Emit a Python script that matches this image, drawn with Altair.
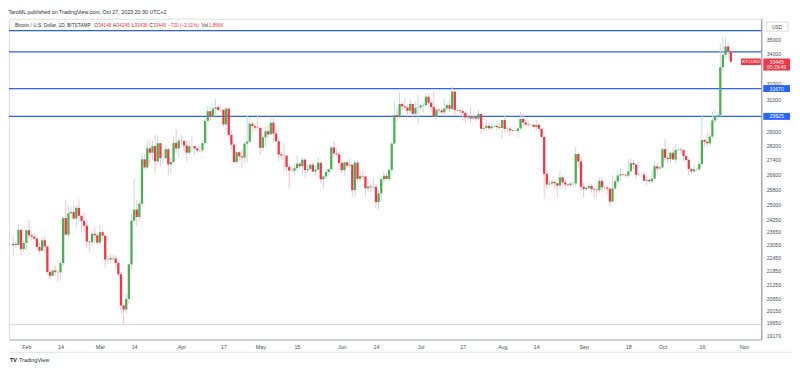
import altair as alt
import pandas as pd
import numpy as np

# ---------------- data (BTC/USD daily, Bitstamp, Jan 27 - Oct 27 2023) ----------------
START_DATE = "2023-01-27"

OPEN = [
    23010, 23080, 23030, 23750, 22840,
    23130, 23730, 23490, 23430, 23330, 22940, 22760, 23250, 22960, 21800, 21630, 21860, 21790, 21780, 22200, 24330, 23520, 24570, 24630, 24300, 24840, 24440, 24190, 23950, 23190, 23160, 23560, 23490,
    23140, 23640, 23470, 22360, 22350, 22430, 22410, 22200, 21700, 20360, 20190, 20630, 22140, 24200, 24750, 24380, 25050, 27420, 26970, 28040, 27790, 28170, 27310, 28330, 27480, 27480, 27990, 27140, 27270, 28350, 28030,
    28480, 28460, 28200, 27790, 28170, 28170, 28030, 27920, 27940, 28340, 29650, 30240, 29900, 30400, 30490, 30320, 30320, 29440, 30400, 28820, 28250, 27270, 27820, 27590, 27520, 28310, 28420, 29480, 29340, 29250,
    29230, 28070, 28680, 29030, 28850, 29540, 28900, 28450, 27700, 27630, 27620, 26990, 26800, 26790, 26930, 27170, 27040, 27400, 26830, 26890, 27120, 26750, 26850, 27230, 26330, 26480, 26720, 26870, 28090, 27750, 27700,
    27220, 26820, 27250, 27070, 27120, 25750, 27240, 26350, 26500, 26480, 25850, 25940, 25900, 25920, 25130, 25580, 26330, 26510, 26340, 26840, 28310, 30000, 29890, 30690, 30540, 30470, 30270, 30690, 30080, 30450,
    30470, 30590, 30620, 31150, 30770, 30500, 29900, 30340, 30290, 30170, 30410, 30620, 30390, 31470, 30320, 30290, 30250, 30140, 29860, 29910, 29800, 29900, 29790, 30080, 29180, 29230, 29350, 29210, 29320, 29350, 29280,
    29230, 29700, 29170, 29180, 29090, 29050, 29060, 29200, 29770, 29560, 29430, 29400, 29420, 29290, 29410, 29180, 28700, 26620, 26050, 26100, 26190, 26120, 25990, 26430, 26160, 26050, 26010, 26100, 26110, 27720, 27300,
    25930, 25800, 25870, 25970, 25810, 25780, 25750, 26240, 25900, 25890, 25830, 25160, 25840, 26220, 26530, 26600, 26570, 26530, 26760, 27210, 27130, 26570, 26580, 26580, 26250, 26300, 26220, 26370, 27030, 26910,
    26970, 27990, 27500, 27430, 27790, 27410, 27950, 27970, 27940, 27600, 27390, 26880, 26760, 26870, 26860, 27160, 28520, 28420, 28330, 28720, 29680, 29920, 29990, 33070, 33920, 34500, 34148,
]
HIGH = [
    23500, 23170, 23960, 23800, 23310,
    23800, 24250, 23590, 23580, 23430, 23160, 23350, 23440, 23000, 21920, 21900, 22090, 21890, 22320, 24380, 25250, 24980, 24870, 25120, 25000, 25280, 24480, 24600, 24120, 23200, 23680, 23880, 23600,
    23960, 23770, 23480, 22420, 22610, 22560, 22550, 22270, 21810, 20450, 20850, 22190, 24550, 26400, 25250, 25200, 27760, 27720, 28450, 28500, 28500, 28830, 28760, 28380, 27800, 28200, 28030, 27500, 28650, 29170, 28650,
    28820, 28520, 28500, 28450, 28740, 28190, 28100, 28160, 28500, 29780, 30540, 30430, 30600, 31000, 30620, 30550, 30360, 30480, 30420, 29100, 28380, 27880, 27830, 28000, 28400, 30020, 29880, 29590, 29450, 29960,
    29330, 28880, 29270, 29370, 29840, 29850, 29180, 28650, 27820, 28340, 27650, 27060, 27020, 27190, 27660, 27270, 27480, 27470, 27190, 27160, 27270, 27050, 27490, 27250, 26540, 26910, 26920, 28200, 28450, 28040, 27840,
    27350, 27310, 27320, 27450, 27130, 27350, 27360, 26800, 26770, 26530, 26200, 26090, 26420, 26080, 25740, 26470, 26780, 26680, 26980, 28400, 30800, 30500, 31430, 30800, 31050, 30650, 31000, 30710, 30830, 31270,
    30660, 30790, 31380, 31330, 30880, 31500, 30440, 30380, 30440, 31040, 30800, 30980, 31820, 31640, 30400, 30450, 30330, 30240, 30190, 30420, 30050, 29990, 30350, 30100, 29360, 29690, 29570, 29530, 29410, 29450, 29520,
    29750, 30050, 29400, 29310, 29120, 29180, 29250, 30200, 30140, 29720, 29540, 29460, 29450, 29680, 29460, 29230, 28780, 26800, 26260, 26270, 26250, 26130, 26800, 26550, 26300, 26100, 26180, 26230, 28140, 27750, 27570,
    26150, 25980, 26120, 26080, 25860, 26030, 26440, 26420, 25940, 25980, 25880, 26550, 26380, 26820, 26880, 26670, 26620, 27420, 27490, 27380, 27160, 26740, 26640, 26730, 26430, 26390, 26830, 27300, 27230, 27090,
    28050, 28580, 27680, 27830, 28120, 28280, 28010, 28100, 27990, 27740, 27480, 26950, 27100, 26960, 27290, 30000, 28610, 28970, 28900, 30220, 30340, 30220, 34740, 35200, 35140, 34790, 34245,
]
LOW = [
    22540, 22880, 23000, 22550, 22720,
    22760, 23380, 23230, 23250, 22750, 22630, 22740, 22650, 21700, 21460, 21600, 21630, 21380, 21530, 22050, 23480, 23350, 24450, 24250, 23880, 24160, 23600, 23640, 22860, 22730, 22980, 23100, 23040,
    23030, 23220, 21980, 22180, 22210, 22290, 21940, 21590, 20050, 19580, 19990, 20450, 21920, 24080, 23950, 24190, 24900, 26900, 26880, 27170, 27350, 26620, 27160, 27030, 27180, 27440, 26560, 26680, 27250, 27730, 27540,
    28250, 27870, 27290, 27680, 27830, 27710, 27780, 27870, 27800, 28180, 29620, 29700, 29880, 29980, 30240, 30170, 29270, 29100, 28650, 28000, 27130, 27150, 27330, 26970, 27220, 27250, 28400, 28890, 29080, 29100,
    27670, 27880, 28120, 28680, 28820, 28390, 28410, 27280, 27380, 26780, 26750, 25830, 26700, 26580, 26720, 26870, 26570, 26400, 26680, 26850, 26700, 26540, 26810, 26090, 25870, 26320, 26550, 26850, 27560, 27570, 26840,
    26620, 26530, 26930, 26970, 25400, 25380, 26130, 26210, 26280, 25380, 25660, 25630, 25740, 24820, 24750, 25170, 26160, 26300, 26250, 26650, 28270, 29580, 29810, 30250, 30320, 29920, 30230, 29900, 30050, 29500,
    30330, 30160, 30600, 30650, 30200, 29850, 29710, 30050, 30080, 29950, 30300, 30200, 30250, 29940, 30250, 30090, 29660, 29500, 29750, 29560, 29720, 29640, 29730, 28860, 29030, 29100, 29100, 29130, 29260, 29050, 29110,
    28600, 28960, 28960, 28750, 28960, 28980, 28690, 29120, 29350, 29340, 29270, 29360, 29250, 29100, 29060, 28680, 25300, 25800, 25980, 26000, 25810, 25340, 25800, 25860, 25770, 25980, 25970, 25880, 25920, 27000, 25700,
    25350, 25720, 25780, 25620, 25370, 25400, 25620, 25650, 25800, 25570, 24900, 25140, 25770, 26130, 26220, 26480, 26400, 26390, 26680, 26880, 26370, 26490, 26520, 26220, 26000, 26100, 26110, 26340, 26670, 26880,
    26950, 27340, 27160, 27220, 27380, 27180, 27860, 27710, 27300, 27300, 26560, 26570, 26690, 26800, 26820, 27120, 28120, 28130, 28180, 28610, 29480, 29690, 29900, 32860, 33700, 33800, 33436,
]
CLOSE = [
    23080, 23030, 23750, 22840, 23130,
    23730, 23490, 23430, 23330, 22940, 22760, 23250, 22960, 21800, 21630, 21860, 21790, 21780, 22200, 24330, 23520, 24570, 24630, 24300, 24840, 24440, 24190, 23950, 23190, 23160, 23560, 23490, 23140,
    23640, 23470, 22360, 22350, 22430, 22410, 22200, 21700, 20360, 20190, 20630, 22140, 24200, 24750, 24380, 25050, 27420, 26970, 28040, 27790, 28170, 27310, 28330, 27480, 27480, 27990, 27140, 27270, 28350, 28030, 28480,
    28460, 28200, 27790, 28170, 28170, 28030, 27920, 27940, 28340, 29650, 30240, 29900, 30400, 30490, 30320, 30320, 29440, 30400, 28820, 28250, 27270, 27820, 27590, 27520, 28310, 28420, 29480, 29340, 29250, 29230,
    28070, 28680, 29030, 28850, 29540, 28900, 28450, 27700, 27630, 27620, 26990, 26800, 26790, 26930, 27170, 27040, 27400, 26830, 26890, 27120, 26750, 26850, 27230, 26330, 26480, 26720, 26870, 28090, 27750, 27700, 27220,
    26820, 27250, 27070, 27120, 25750, 27240, 26350, 26500, 26480, 25850, 25940, 25900, 25920, 25130, 25580, 26330, 26510, 26340, 26840, 28310, 30000, 29890, 30690, 30540, 30470, 30270, 30690, 30080, 30450, 30470,
    30590, 30620, 31150, 30770, 30500, 29900, 30340, 30290, 30170, 30410, 30620, 30390, 31470, 30320, 30290, 30250, 30140, 29860, 29910, 29800, 29900, 29790, 30080, 29180, 29230, 29350, 29210, 29320, 29350, 29280, 29230,
    29700, 29170, 29180, 29090, 29050, 29060, 29200, 29770, 29560, 29430, 29400, 29420, 29290, 29410, 29180, 28700, 26620, 26050, 26100, 26190, 26120, 25990, 26430, 26160, 26050, 26010, 26100, 26110, 27720, 27300, 25930,
    25800, 25870, 25970, 25810, 25780, 25750, 26240, 25900, 25890, 25830, 25160, 25840, 26220, 26530, 26600, 26570, 26530, 26760, 27210, 27130, 26570, 26580, 26580, 26250, 26300, 26220, 26370, 27030, 26910, 26970,
    27990, 27500, 27430, 27790, 27410, 27950, 27970, 27940, 27600, 27390, 26880, 26760, 26870, 26860, 27160, 28520, 28420, 28330, 28720, 29680, 29920, 29990, 33070, 33920, 34500, 34150, 33445,
]

# horizontal drawn levels
BLUE_LEVELS = [35640, 34130, 31670, 29925]
GRAY_LEVELS = [19580]

# axis labels
Y_TICKS = [19170, 19650, 20150, 20650, 21250, 21850, 22450, 23050, 23650, 24250,
           25000, 25800, 26600, 27400, 28200, 29000, 31000, 32000, 34000, 35000]
X_TICK_DATES = ["2023-02-01", "2023-02-14", "2023-03-01", "2023-03-14", "2023-04-01", "2023-04-17",
                "2023-05-01", "2023-05-15", "2023-06-01", "2023-06-14", "2023-07-01", "2023-07-17",
                "2023-08-01", "2023-08-14", "2023-09-01", "2023-09-18", "2023-10-01", "2023-10-16",
                "2023-11-01"]

# price-axis labels
AXIS_LABELS = [31670, 29925]
LAST_PRICE = 33445
LAST_TIMER = "05:29:49"

HEADER = "TaroML published on TradingView.com, Oct 27, 2023 20:30 UTC+2"
# (text, colour, gap before the segment in px)
LEGEND_SEGMENTS = [
    ("Bitcoin / U.S. Dollar, 1D, BITSTAMP", "#2a2e39", 0),
    ("O", "#2a2e39", 3), ("34148", "#f23645", 0.3),
    ("H", "#2a2e39", 1.6), ("34245", "#f23645", 0.3),
    ("L", "#2a2e39", 1.6), ("33436", "#f23645", 0.3),
    ("C", "#2a2e39", 1.6), ("33445", "#f23645", 0.3),
    ("\u2212720 (\u22122.11%)", "#f23645", 1.8),
    ("Vol", "#2a2e39", 2.2), ("1.856K", "#f23645", 0.3),
]

# ---------------- layout / style ----------------
W, H = 760, 324
FONT = "Liberation Sans"
LEG_FS = 4.8
UP, DOWN = "#4caf50", "#f23645"
UP_WICK, DOWN_WICK = "#c5dbe2", "#f6c3c9"
BLUE = "#2962ff"

# Arial / Liberation Sans advance widths (em)
_AW = {" ": .278, "/": .278, ".": .278, ",": .278, "(": .333, ")": .333, "%": .889, "\u2212": .584,
       "i": .222, "l": .222, "t": .278, "r": .333, "c": .5, "o": .556, "n": .556, "a": .556,
       "B": .667, "U": .722, "S": .667, "D": .722, "I": .278, "T": .611, "A": .667, "M": .833,
       "P": .667, "O": .778, "H": .722, "L": .556, "C": .722, "V": .667, "K": .667}

def text_w(s, fs):
    return sum(_AW.get(ch, .556) for ch in s) * fs

leg_rows, cx = [], 6.0
for txt, col, gap in LEGEND_SEGMENTS:
    cx += gap
    leg_rows.append((txt, cx, col))
    cx += text_w(txt, LEG_FS)

def ms(ts):
    return int(pd.Timestamp(ts, tz="UTC").value // 10**6)

dates = pd.date_range(START_DATE, periods=len(CLOSE), freq="D", tz="UTC")
df = pd.DataFrame({
    "t": (dates.asi8 // 10**6).astype(np.int64),
    "open": OPEN, "high": HIGH, "low": LOW, "close": CLOSE,
})
df["dir"] = np.where(df["close"] >= df["open"], "up", "down")

feb1 = pd.Timestamp("2023-02-01", tz="UTC")
x_dom = [int((feb1 + pd.Timedelta(days=-6.6)).value // 10**6),
         int((feb1 + pd.Timedelta(days=279.6)).value // 10**6)]

xscale = alt.Scale(type="utc", domain=x_dom, padding=0, nice=False)
xaxis = alt.Axis(values=[ms(d) for d in X_TICK_DATES],
                 labelExpr="utcdate(datum.value) == 1 ? utcFormat(datum.value, '%b') : utcFormat(datum.value, '%-d')",
                 ticks=False, grid=False, domainColor="#b2b5be", domainWidth=1,
                 labelFont=FONT, labelFontSize=5.4, labelColor="#4a4e59",
                 labelPadding=5, labelOverlap=False, labelFlush=False, title=None)
yscale = alt.Scale(type="log", domain=[19000, 36510], nice=False, padding=0)
yaxis = alt.Axis(orient="right", values=Y_TICKS, format="d", ticks=False, grid=False,
                 domainColor="#8a8e99", domainWidth=1,
                 labelFont=FONT, labelFontSize=5.2, labelColor="#4a4e59",
                 labelPadding=5, labelOverlap=False, labelFlush=False, title=None)

def X(field):
    return alt.X(f"{field}:T", scale=xscale, axis=xaxis)

def Y(field):
    return alt.Y(f"{field}:Q", scale=yscale, axis=yaxis)

base = alt.Chart(df)

wicks = base.mark_rule(strokeWidth=1).encode(
    x=X("t"), y=Y("low"), y2="high:Q",
    stroke=alt.Stroke("dir:N", scale=alt.Scale(domain=["up", "down"], range=[UP_WICK, DOWN_WICK]), legend=None))
bodies = base.mark_bar(size=2.3).encode(
    x=X("t"), y=Y("open"), y2="close:Q",
    fill=alt.Fill("dir:N", scale=alt.Scale(domain=["up", "down"], range=[UP, DOWN]), legend=None))

blue_df = pd.DataFrame({"price": BLUE_LEVELS})
gray_df = pd.DataFrame({"price": GRAY_LEVELS})
blue_lines = alt.Chart(blue_df).mark_rule(color=BLUE, strokeWidth=1.2).encode(y=Y("price"))
gray_lines = alt.Chart(gray_df).mark_rule(color="#d1d4dc", strokeWidth=1).encode(y=Y("price"))

last_df = pd.DataFrame({"price": [LAST_PRICE], "label": [str(LAST_PRICE)], "timer": [LAST_TIMER], "sym": ["BTCUSD"]})

# price-axis label boxes
BX = W + 15.5
def box_path(ratio):
    return f"M-1,{-ratio}L1,{-ratio}L1,{ratio}L-1,{ratio}Z"

lvl_df = pd.DataFrame({"price": AXIS_LABELS, "label": [str(v) for v in AXIS_LABELS]})
lvl_boxes = alt.Chart(lvl_df).mark_point(shape=box_path(0.26), filled=True, size=729, opacity=1,
                                         color=BLUE, strokeWidth=0).encode(x=alt.value(BX), y=Y("price"))
lvl_text = alt.Chart(lvl_df).mark_text(font=FONT, fontSize=5.2, color="white").encode(
    x=alt.value(BX), y=Y("price"), text="label:N")

last_box = alt.Chart(last_df).mark_point(shape=box_path(0.45), filled=True, size=729, opacity=1,
                                         color=DOWN, strokeWidth=0, yOffset=2.8).encode(x=alt.value(BX), y=Y("price"))
last_text = alt.Chart(last_df).mark_text(font=FONT, fontSize=5.2, color="white").encode(
    x=alt.value(BX), y=Y("price"), text="label:N")
last_timer = alt.Chart(last_df).mark_text(font=FONT, fontSize=5, color="white", dy=5.6).encode(
    x=alt.value(BX), y=Y("price"), text="timer:N")
sym_box = alt.Chart(last_df).mark_point(shape=box_path(0.33), filled=True, size=400, opacity=1,
                                        color=DOWN, strokeWidth=0).encode(x=alt.value(W - 10.5), y=Y("price"))
sym_text = alt.Chart(last_df).mark_text(font=FONT, fontSize=4.4, color="white").encode(
    x=alt.value(W - 10.5), y=Y("price"), text="sym:N")

# USD box at top of price axis
usd_df = pd.DataFrame({"t": ["USD"]})
usd_box = alt.Chart(usd_df).mark_point(shape=box_path(0.42), filled=True, size=484, opacity=1,
                                       fill="white", stroke="#d1d4dc", strokeWidth=0.8).encode(
    x=alt.value(BX + 0.5), y=alt.value(8))
usd_text = alt.Chart(usd_df).mark_text(font=FONT, fontSize=5, color="#4a4e59").encode(
    x=alt.value(BX + 0.5), y=alt.value(8), text="t:N")

# legend line in the pane
leg_df = pd.DataFrame(leg_rows, columns=["text", "x", "c"])
legend_txt = alt.Chart(leg_df).mark_text(font=FONT, fontSize=LEG_FS, align="left", baseline="middle").encode(
    x=alt.X("x:Q", scale=None), y=alt.value(7), text="text:N", color=alt.Color("c:N", scale=None))

# footer
foot_df = pd.DataFrame({"text": ["TradingView"], "logo": ["TV"]})
footer = alt.Chart(foot_df).mark_text(font=FONT, fontSize=5.6, align="left", baseline="middle", color="#2a2e39").encode(
    x=alt.value(10), y=alt.value(H + 21), text="text:N")
logo = alt.Chart(foot_df).mark_text(font=FONT, fontSize=5.6, fontWeight="bold", align="left", baseline="middle", color="#131722").encode(
    x=alt.value(1), y=alt.value(H + 21), text="logo:N")

# time-axis strip bottom border
strip = alt.Chart(foot_df).mark_rule(color="#e0e3eb", strokeWidth=1).encode(
    x=alt.value(0), x2=alt.value(W + 30), y=alt.value(H + 13))

chart = alt.layer(
    gray_lines, blue_lines, wicks, bodies,
    sym_box, sym_text, legend_txt,
    lvl_boxes, lvl_text, last_box, last_text, last_timer,
    usd_box, usd_text, strip, logo, footer,
).resolve_scale(color="independent", stroke="independent", fill="independent").properties(
    width=W, height=H, padding=0,
    title=alt.TitleParams(HEADER, anchor="start", fontSize=5.4, font=FONT, fontWeight="normal",
                          color="#2a2e39", offset=3),
).configure_view(stroke="#e0e3eb").configure(background="white")

chart.save("out.html", embed_options={"renderer": "svg", "actions": False})
